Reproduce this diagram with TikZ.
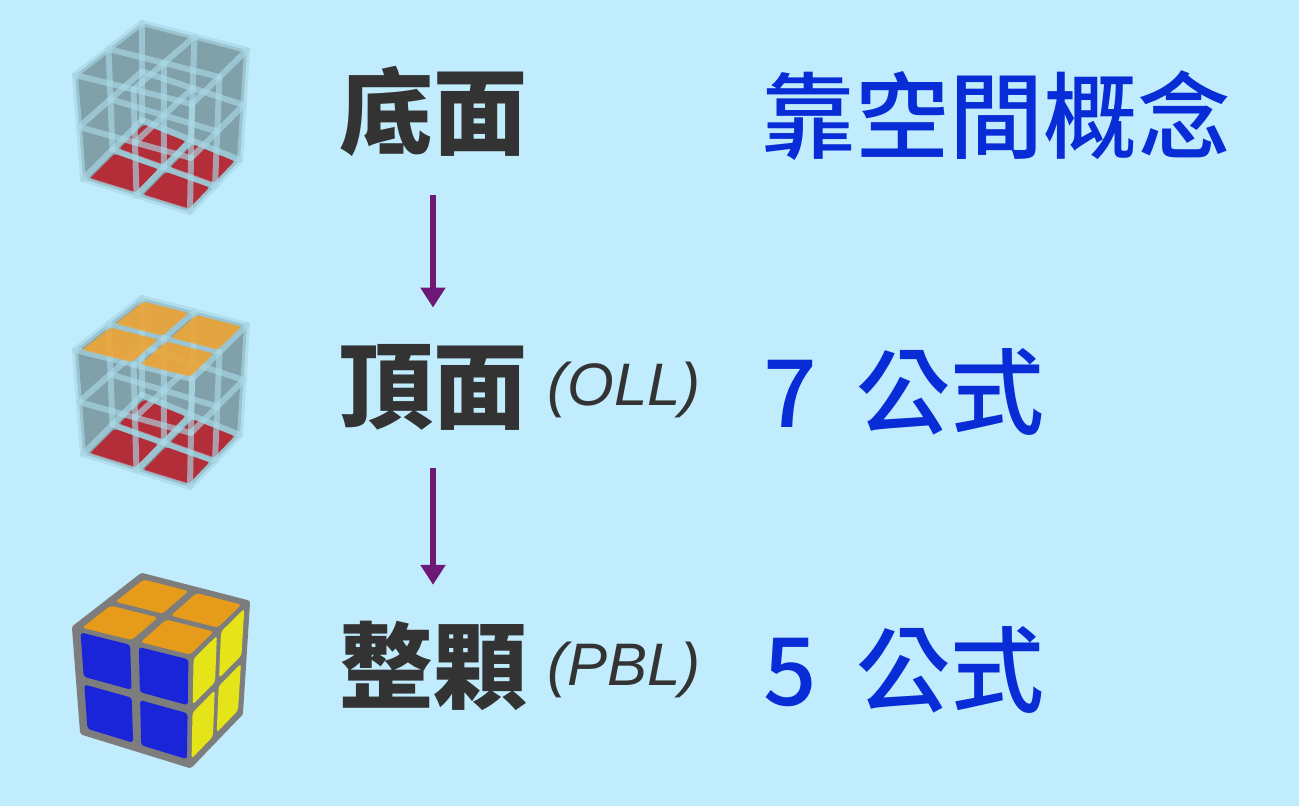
\documentclass[tikz,border=0pt]{standalone}
\usepackage{fontspec}
\setmainfont{Liberation Sans}
\newfontfamily\cjk{Noto Sans CJK TC}
\newfontfamily\cjkhand{Noto Sans CJK TC Medium}
\usetikzlibrary{calc,positioning,arrows.meta}

\definecolor{bgblue}{RGB}{192,236,253}
\definecolor{inkgray}{RGB}{51,51,51}
\definecolor{inkblue}{RGB}{8,44,214}
\definecolor{arrowpurple}{RGB}{110,24,118}
\definecolor{glass}{RGB}{128,160,170}
\definecolor{glassedge}{RGB}{170,216,230}
\definecolor{cubered}{RGB}{180,46,58}
\definecolor{glassorange}{RGB}{236,166,58}
\definecolor{cubeorange}{RGB}{230,156,26}
\definecolor{cubeblue}{RGB}{26,36,216}
\definecolor{cubeyellow}{RGB}{228,228,24}
\definecolor{cubeframe}{RGB}{125,125,125}

% point (u,v,w) of the cube, u: front->left, v: front->right, w: top->bottom
\newcommand\cpt[3]{($($($(TF)!#1!(TL)$)!#2!($(TR)!#1!(TB)$)$)!#3!($($(BF)!#1!(BL)$)!#2!($(BR)!#1!(BB)$)$)$)}
\newcommand\cubecorners{%
  \coordinate (TF) at (192,657); \coordinate (TL) at (75,628);
  \coordinate (TR) at (247,603); \coordinate (TB) at (142,576);
  \coordinate (BF) at (190,765); \coordinate (BL) at (83,732);
  \coordinate (BR) at (240,713); \coordinate (BB) at (142,673);}
% 2x2 stickers, #1 colour, #2 the face
\newcommand\tiles[2]{%
  \foreach \i in {0,1} \foreach \j in {0,1} {
    \pgfmathsetmacro\ua{\i/2+0.03}\pgfmathsetmacro\ub{\i/2+0.455}
    \pgfmathsetmacro\va{\j/2+0.03}\pgfmathsetmacro\vb{\j/2+0.455}
    \fill[#1,rounded corners=1.5pt] #2;}}
\newcommand\topface[1]{\cpt{\ua}{\va}{#1} -- \cpt{\ub}{\va}{#1} -- \cpt{\ub}{\vb}{#1} -- \cpt{\ua}{\vb}{#1} -- cycle}
\newcommand\leftface{\cpt{\ua}{0}{\va} -- \cpt{\ub}{0}{\va} -- \cpt{\ub}{0}{\vb} -- \cpt{\ua}{0}{\vb} -- cycle}
\newcommand\rightface{\cpt{0}{\ua}{\va} -- \cpt{0}{\ub}{\va} -- \cpt{0}{\ub}{\vb} -- \cpt{0}{\ua}{\vb} -- cycle}

\newcommand\glasscube{%
  \fill[glass] (TB) -- (TR) -- (BR) -- (BF) -- (BL) -- (TL) -- cycle;
  \tiles{cubered}{\topface{1}}
  \foreach \s in {0,0.5,1} \foreach \t in {0,0.5,1} {
    \draw[glassline] \cpt{0}{\s}{\t} -- \cpt{1}{\s}{\t};
    \draw[glassline] \cpt{\s}{0}{\t} -- \cpt{\s}{1}{\t};
    \draw[glassline] \cpt{\s}{\t}{0} -- \cpt{\s}{\t}{1};}}
\newcommand\solidcube{%
  \filldraw[cubeframe,line width=3pt,line join=round] (TB) -- (TR) -- (BR) -- (BF) -- (BL) -- (TL) -- cycle;
  \tiles{cubeorange}{\topface{0}}
  \tiles{cubeblue}{\leftface}
  \tiles{cubeyellow}{\rightface}}

\begin{document}
\begin{tikzpicture}[x=0.5pt,y=-0.5pt]
  \tikzset{stage/.style={inner sep=0pt,text=inkgray,font=\cjk\bfseries\fontsize{47pt}{50pt}\selectfont}}
  \tikzset{tag/.style={inner sep=0pt,anchor=west,text=inkgray,font=\itshape\fontsize{30pt}{32pt}\selectfont}}
  \tikzset{note/.style={inner sep=0pt,anchor=west,text=inkblue,font=\cjkhand\fontsize{47pt}{50pt}\selectfont}}
  \tikzset{flow/.style={draw=arrowpurple,line width=3pt,-{Triangle[width=12pt,length=10pt]},shorten <=19pt,shorten >=18pt}}
  \tikzset{glassline/.style={draw=glassedge,line width=3pt,opacity=.65,line cap=round}}

  \path[use as bounding box,fill=bgblue] (0,0) rectangle (1299,806);

  % the three cubes
  \begin{scope}[shift={(0,-553)}]
    \cubecorners \glasscube
  \end{scope}
  \begin{scope}[shift={(0,-278)}]
    \cubecorners \glasscube
    \tiles{glassorange,opacity=.92}{\topface{0}}
  \end{scope}
  \cubecorners \solidcube

  % steps
  \node[stage] (dimian) at (433,111) {底面};
  \node[stage] (dingmian) at (433,387) {頂面};
  \node[stage] (zhengke) at (433,666) {整顆};
  \node[tag] (oll) at (547,390) {(OLL)};
  \node[tag] (pbl) at (547,670) {(PBL)};
  \node[note,anchor=center] (kongjian) at (996,116) {靠空間概念};
  \node[note] (ollcount) at (763,392) {7\hspace{0.42em}公式};
  \node[note] (pblcount) at (763,670) {5\hspace{0.42em}公式};

  \draw[flow] (dimian.south) -- (dingmian.north);
  \draw[flow] (dingmian.south) -- (zhengke.north);
\end{tikzpicture}
\end{document}
